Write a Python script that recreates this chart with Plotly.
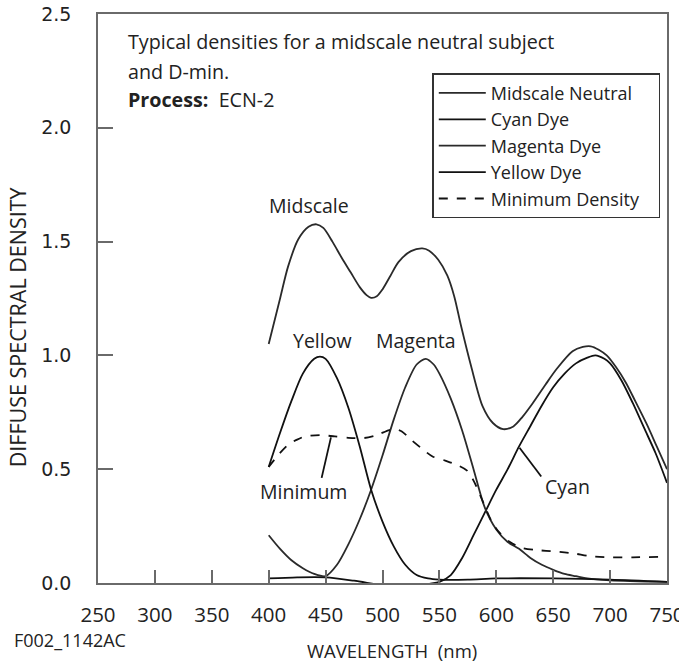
import plotly.graph_objects as go

# ---------------- data ----------------
mid_wl = [400, 410, 417, 426, 435, 442, 448, 456, 464, 472, 480, 486, 490, 495, 500, 507, 514,
          525, 535, 541, 549, 557, 563, 569, 578, 588, 597, 606, 615, 623, 632, 643, 653, 667,
          676, 683, 690, 697, 705, 714, 722, 732, 741, 750]
mid_d = [1.05, 1.25, 1.39, 1.51, 1.565, 1.576, 1.56, 1.50, 1.43, 1.365, 1.30, 1.265, 1.253, 1.26,
         1.29, 1.35, 1.41, 1.458, 1.47, 1.46, 1.42, 1.35, 1.26, 1.13, 0.95, 0.776, 0.703, 0.676,
         0.688, 0.73, 0.79, 0.87, 0.94, 1.018, 1.037, 1.04, 1.025, 1.0, 0.95, 0.879, 0.80, 0.70,
         0.60, 0.50]

cyan_wl = [400, 425, 450, 475, 500, 525, 540, 550, 560, 570, 580, 590, 600, 610, 620, 630, 640,
           650, 660, 670, 680, 687, 695, 700, 710, 720, 730, 740, 750]
cyan_d = [0.02, 0.025, 0.025, 0.01, -0.01, -0.022, -0.005, 0.005, 0.035, 0.11, 0.21, 0.31, 0.41,
          0.50, 0.60, 0.69, 0.78, 0.86, 0.92, 0.965, 0.99, 1.0, 0.985, 0.965, 0.89, 0.79, 0.68,
          0.57, 0.44]

mag_wl = [400, 410, 420, 430, 440, 450, 460, 470, 480, 490, 500, 510, 520, 530, 538, 545, 550,
          560, 570, 580, 590, 600, 610, 620, 630, 640, 650, 660, 670, 680, 700, 750]
mag_d = [0.21, 0.15, 0.10, 0.065, 0.04, 0.03, 0.08, 0.17, 0.28, 0.41, 0.56, 0.72, 0.86, 0.96,
         0.985, 0.96, 0.92, 0.81, 0.67, 0.50, 0.33, 0.235, 0.18, 0.15, 0.11, 0.08, 0.058, 0.04,
         0.03, 0.02, 0.012, 0.005]

yel_wl = [400, 410, 420, 430, 440, 445, 450, 460, 470, 480, 490, 500, 510, 520, 530, 540, 550,
          575, 600, 650, 700, 750]
yel_d = [0.51, 0.66, 0.80, 0.92, 0.985, 0.995, 0.985, 0.90, 0.77, 0.60, 0.41, 0.27, 0.16, 0.08,
         0.035, 0.02, 0.015, 0.015, 0.02, 0.02, 0.015, 0.005]

min_wl = [400, 408, 417, 425, 432, 445, 458, 470, 484, 495, 506, 512, 517, 525, 534, 544, 555,
          565, 574, 580, 588, 596, 603, 612, 622, 635, 652, 668, 682, 700, 720, 750]
min_d = [0.51, 0.56, 0.607, 0.63, 0.644, 0.65, 0.644, 0.638, 0.637, 0.65, 0.672, 0.675, 0.666,
         0.63, 0.593, 0.556, 0.538, 0.52, 0.495, 0.45, 0.36, 0.27, 0.22, 0.18, 0.155, 0.145,
         0.138, 0.13, 0.118, 0.113, 0.113, 0.115]

x_labels = [250, 300, 350, 400, 450, 500, 550, 600, 650, 700, 750]
x_marks = [300, 350, 400, 450, 500, 550, 600, 650, 700]
y_labels = [0.0, 0.5, 1.0, 1.5, 2.0, 2.5]
y_marks = [0.5, 1.0, 1.5, 2.0]

series = [
    ("Midscale Neutral", mid_wl, mid_d, "solid", "#2a2a2a"),
    ("Cyan Dye", cyan_wl, cyan_d, "solid", "#111111"),
    ("Magenta Dye", mag_wl, mag_d, "solid", "#2a2a2a"),
    ("Yellow Dye", yel_wl, yel_d, "solid", "#111111"),
    ("Minimum Density\u00a0\u00a0\u00a0", min_wl, min_d, "dash", "#111111"),
]

FONT = "Open Sans, Noto Sans, DejaVu Sans, sans-serif"
TXT = "#222222"
AX = "#6a6a6a"

fig = go.Figure()
for i, (name, xs, ys, dash, col) in enumerate(series):
    fig.add_trace(go.Scatter(
        x=xs, y=ys, name=name, mode="lines", line_shape="spline",
        line=dict(color=col, width=1.8, dash=dash, smoothing=0.8),
        legendgroup=f"g{i}", hoverinfo="skip"))

# dummy trace for overlay axes (tick marks only)
fig.add_trace(go.Scatter(x=[None], y=[None], xaxis="x2", yaxis="y2",
                         showlegend=False, hoverinfo="skip"))

fig.update_layout(
    width=679, height=662,
    margin=dict(l=98, r=12, t=14, b=79),
    paper_bgcolor="white", plot_bgcolor="white",
    font=dict(family=FONT, size=18, color=TXT),
    showlegend=True,
    legend=dict(
        x=0.5875, y=0.896, xanchor="left", yanchor="top",
        bgcolor="white", bordercolor="#333333", borderwidth=1.5,
        font=dict(family=FONT, size=18, color=TXT),
        traceorder="grouped", tracegroupgap=0, itemwidth=47,
    ),
    xaxis=dict(
        range=[250, 750], tickmode="array", tickvals=x_labels,
        ticktext=[str(v) for v in x_labels], ticks="",
        showline=True, linecolor=AX, linewidth=1.5, mirror=True,
        showgrid=False, zeroline=False, automargin=False,
        tickfont=dict(size=20.5), ticklabelstandoff=13, ticklabeloverflow="allow",
    ),
    yaxis=dict(
        range=[0, 2.5], tickmode="array", tickvals=y_labels,
        ticktext=[f"{v:.1f}" for v in y_labels], ticks="",
        showline=True, linecolor=AX, linewidth=1.5, mirror=True,
        showgrid=False, zeroline=False, automargin=False,
        tickfont=dict(family="DejaVu Sans, sans-serif", size=19), ticklabelstandoff=21,
        ticklabeloverflow="allow",
    ),
    xaxis2=dict(
        overlaying="x", anchor="y2", side="bottom", range=[250, 750],
        tickmode="array", tickvals=x_marks, ticks="inside", ticklen=13,
        tickwidth=1.5, tickcolor=AX, showticklabels=False, showline=False,
        showgrid=False, zeroline=False, automargin=False,
    ),
    yaxis2=dict(
        overlaying="y", anchor="x2", side="left", range=[0, 2.5],
        tickmode="array", tickvals=y_marks, ticks="inside", ticklen=15,
        tickwidth=1.5, tickcolor=AX, showticklabels=False, showline=False,
        showgrid=False, zeroline=False, automargin=False,
    ),
)

# axis titles
fig.add_annotation(text="DIFFUSE SPECTRAL DENSITY", xref="paper", yref="paper",
                   x=-0.140, y=0.45, xanchor="center", yanchor="middle", textangle=-90,
                   showarrow=False, font=dict(family=FONT, size=21.5, color=TXT))
fig.add_annotation(text="WAVELENGTH\u00a0\u00a0(nm)", xref="paper", yref="paper",
                   x=0.5163, y=-0.1178, xanchor="center", yanchor="middle",
                   showarrow=False, font=dict(family=FONT, size=18.5, color=TXT))

# header notes
notes = [
    ("Typical densities for a midscale neutral subject", 0.951),
    ("and D-min.", 0.899),
    ("<b>Process:</b>\u00a0\u00a0ECN-2", 0.849),
]
for text, yy in notes:
    fig.add_annotation(text=text, xref="paper", yref="paper", x=0.050, y=yy,
                       xanchor="left", yanchor="middle", showarrow=False,
                       font=dict(family=FONT, size=19.7, color=TXT))

# curve labels
labels = [
    ("Midscale", 435.2, 1.659),
    ("Yellow", 447.2, 1.067),
    ("Magenta", 529.0, 1.067),
    ("Minimum", 430.7, 0.402),
    ("Cyan", 662.8, 0.4256),
]
for text, xx, yy in labels:
    fig.add_annotation(text=text, x=xx, y=yy, xref="x", yref="y",
                       xanchor="center", yanchor="middle", showarrow=False,
                       font=dict(family=FONT, size=19.5, color=TXT))

# leader lines
leaders = [((446.5, 0.462), (454.7, 0.640)), ((639.5, 0.468), (620.4, 0.594))]
for (x0, y0), (x1, y1) in leaders:
    fig.add_shape(type="line", xref="x", yref="y", x0=x0, y0=y0, x1=x1, y1=y1,
                  line=dict(color="#111111", width=1.8))

fig.add_annotation(text="F002_1142AC", xref="paper", yref="paper",
                   x=-0.151, y=-0.1, xanchor="left", yanchor="middle",
                   showarrow=False, font=dict(family=FONT, size=18, color=TXT))

fig.write_html("out.html")
